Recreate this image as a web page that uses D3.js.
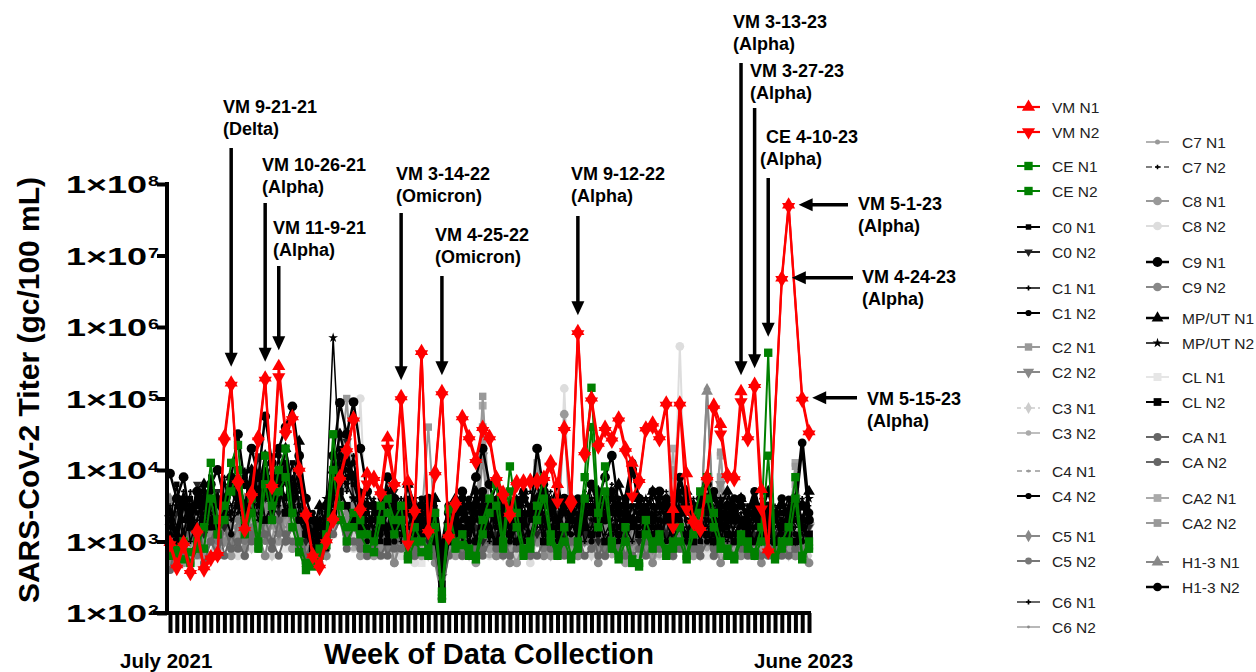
<!doctype html>
<html>
<meta charset="utf-8">
<style>
body { margin: 0; background: #fff; }
text { font-family: "Liberation Sans", Arial, sans-serif; }
</style>
<head>
<script src="https://cdn.jsdelivr.net/npm/d3@7"></script>
</head>
<body>
<script>
var _ = null;
var nWeeks = 95;

// log10 of titer (gc/100 mL), one value per sampled week, _ = no sample
var vmN1 = [2.99,2.68,2.99,2.6,3.17,2.65,2.79,2.85,4.47,5.22,
  3.87,3.2,3.69,4.47,5.29,3.8,5.45,4.57,4.75,4.03,
  3.4,2.82,2.68,3.03,3.34,3.91,4.3,4.73,3.48,3.95,
  3.9,3.7,4.45,3.82,5.03,3.84,3.45,5.66,3.17,3.98,
  5.1,3.1,3.56,4.75,4.47,4.15,4.6,4.47,3.9,3.69,
  3.4,3.84,3.85,3.86,3.87,3.9,4.12,3.8,4.6,3.6,
  5.94,4.26,5.01,4.38,4.6,4.45,4.73,4.31,4.1,3.87,
  4.59,4.66,4.47,4.94,3.45,4.94,3.95,3.3,3.2,3.91,
  4.91,4.64,3.94,3.91,5.1,4.47,5.2,3.73,2.89,_,
  6.69,7.71,_,5.01,4.54];
var vmN2 = [2.95,2.62,2.93,2.55,3.1,2.6,2.75,2.8,4.4,5.18,
  3.8,3.15,3.62,4.4,5.25,3.75,5.3,4.5,4.7,3.98,
  3.35,2.78,2.62,2.98,3.28,3.85,4.25,4.68,3.42,3.8,
  3.85,3.65,4.3,3.78,4.98,2.96,3.4,5.62,3.12,3.92,
  5.05,3.05,3.5,4.7,4.42,4.1,4.55,4.42,3.85,3.62,
  3.35,3.78,3.8,3.82,3.82,3.85,4.05,3.55,4.55,3.5,
  5.9,4.2,4.96,4.32,4.55,4.4,4.68,4.25,3.63,3.82,
  4.55,4.6,4.42,4.9,3.2,4.9,3.45,3.25,3.15,3.85,
  4.85,4.5,3.9,3.86,4.95,4.42,5.15,3.45,2.85,_,
  6.66,7.68,_,4.97,4.5];
var ceN1 = [2.9,2.8,3.0,2.7,2.9,3.2,4.1,3.3,3.5,4.1,
  4.35,3.3,3.6,3.0,4.2,3.5,4.0,4.3,3.4,3.0,
  2.7,2.65,2.9,3.1,4.5,3.5,3.2,3.4,3.3,3.1,
  3.0,3.5,3.6,3.3,3.5,2.8,3.2,3.0,2.9,3.4,
  2.3,3.45,3.0,3.1,2.9,2.8,3.3,3.6,3.8,3.0,
  4.05,3.4,2.9,3.0,3.5,3.9,3.1,2.9,3.2,2.8,
  3.0,3.9,5.15,3.4,4.05,3.0,2.8,3.2,2.75,2.7,
  3.3,3.0,3.1,2.9,3.0,3.2,2.8,3.3,3.7,3.9,
  3.4,3.0,2.9,2.8,3.1,3.0,2.85,3.2,5.64,2.8,
  3.0,3.2,3.9,2.8,3.0];
var ceN2 = [2.8,2.9,2.75,2.85,3.0,2.9,3.6,3.1,3.3,3.7,
  4.0,3.1,3.4,2.9,3.8,3.3,3.7,3.9,3.2,2.85,
  2.6,2.7,2.8,2.95,4.0,3.3,3.0,3.2,3.1,2.9,
  2.85,3.3,3.4,3.1,3.3,2.75,3.0,2.85,2.8,3.2,
  2.2,3.2,2.9,2.95,2.8,2.75,3.1,3.4,3.5,2.9,
  3.7,3.2,2.8,2.9,3.3,3.6,3.0,2.8,3.0,2.75,
  2.9,3.6,4.6,3.2,3.7,2.9,2.75,3.0,2.7,2.65,
  3.1,2.9,3.0,2.8,2.9,3.0,2.75,3.1,3.4,3.6,
  3.2,2.9,2.8,2.75,3.0,2.9,2.8,3.0,4.2,2.75,
  2.9,3.0,3.6,2.75,2.9];
var c0N1 = [3.3,3.8,3.1,3.6,3.4,3.2,3.9,3.5,3.3,3.7, 3.6,3.3,4.0,3.5,3.8,3.4,3.9,3.6,4.1,3.5,
  3.2,3.0,3.3,2.9,3.8,4.3,4.0,3.8,3.5,3.2, 3.4,3.0,3.6,3.2,3.1,3.5,3.0,3.3,3.6,3.1,
  2.3,3.2,3.0,3.4,3.1,3.3,3.6,3.2,3.0,3.5, 3.1,3.4,3.0,3.3,3.6,3.1,3.4,3.0,3.2,3.5,
  3.0,3.3,3.5,3.1,3.4,3.6,3.0,3.5,3.2,3.4, 3.1,3.5,3.2,3.4,3.0,3.3,3.1,3.4,3.0,3.3,
  3.2,3.0,3.4,3.1,3.3,3.0,3.2,3.5,3.0,3.3, 3.1,3.0,3.4,3.2,3.0];
var c0N2 = [3.0,3.4,3.6,3.2,3.8,3.1,3.5,3.7,3.2,3.4, 3.9,3.5,3.7,4.2,3.6,3.9,3.4,4.3,3.8,3.6,
  3.0,3.2,2.8,3.4,3.6,4.0,4.4,3.6,3.3,3.5, 3.1,3.4,3.2,3.7,3.3,3.0,3.4,3.2,3.0,3.4,
  2.5,3.0,3.3,3.1,3.5,3.2,3.0,3.4,3.1,3.2, 3.4,3.0,3.2,3.5,3.1,3.3,3.0,3.4,3.1,3.3,
  3.5,3.1,3.3,3.0,3.6,3.2,3.4,3.1,3.5,3.0, 3.3,3.0,3.4,3.1,3.5,3.2,3.0,3.3,3.1,3.4,
  3.0,3.3,3.1,3.4,3.0,3.5,3.1,3.0,3.2,3.1, 3.3,3.1,3.0,3.3,3.2];
var c1N1 = [3.5,3.2,3.7,3.0,3.3,3.8,3.4,3.1,3.9,3.3, 3.4,4.0,3.6,3.3,3.7,4.2,3.5,3.9,3.4,3.8,
  3.3,2.9,3.1,3.4,3.5,4.1,3.7,4.2,3.1,3.4, 3.2,3.5,3.0,3.4,3.6,3.2,3.5,3.0,3.3,3.5,
  2.8,3.3,3.5,3.0,3.2,3.6,3.3,3.0,3.4,3.1, 3.3,3.5,3.1,3.0,3.4,3.2,3.6,3.3,3.0,3.2,
  3.4,3.0,3.2,3.5,3.1,3.3,3.6,3.2,3.0,3.4, 3.2,3.4,3.0,3.3,3.1,3.6,3.2,3.0,3.4,3.1,
  3.3,3.1,3.0,3.2,3.4,3.1,3.3,3.0,3.1,3.4, 3.0,3.2,3.3,3.1,3.4];
var c1N2 = [3.1,3.6,3.3,3.5,3.0,3.7,3.2,3.6,3.4,3.1, 3.7,3.4,3.8,3.6,4.0,3.5,4.2,3.4,3.7,4.0,
  3.1,3.4,3.0,3.2,3.9,3.6,4.3,3.9,3.6,3.0, 3.5,3.1,3.4,3.0,3.3,3.6,3.2,3.4,3.1,3.6,
  2.6,3.1,3.4,3.2,3.0,3.4,3.1,3.6,3.2,3.3, 3.0,3.2,3.4,3.1,3.3,3.5,3.0,3.2,3.4,3.1,
  3.1,3.4,3.0,3.3,3.5,3.1,3.2,3.4,3.3,3.2, 3.4,3.1,3.3,3.0,3.2,3.4,3.0,3.5,3.2,3.0,
  3.1,3.4,3.2,3.0,3.3,3.2,3.0,3.3,3.4,3.0, 3.2,3.4,3.1,3.0,3.3];
var c2N1 = [2.9,3.3,3.0,3.5,2.8,3.2,3.4,3.0,3.6,3.3, 3.1,3.5,3.2,3.7,3.4,3.0,3.6,3.3,3.8,3.1,
  2.9,3.2,2.8,3.1,3.6,3.9,5.0,3.7,3.3,3.1, 3.0,3.3,3.5,3.1,3.2,3.4,3.0,3.3,4.6,3.2,
  2.7,3.0,3.2,2.9,3.3,3.1,5.03,3.4,3.0,3.2, 2.9,3.1,3.3,3.0,4.1,3.2,3.0,3.4,3.1,2.9,
  3.2,3.0,3.3,3.1,2.9,3.4,3.0,3.2,3.1,3.3, 3.0,3.2,2.9,3.1,3.3,3.0,3.2,3.4,3.1,3.0,
  3.2,4.25,3.0,3.3,3.1,3.0,3.2,2.9,3.1,3.0, 3.3,3.2,4.05,3.1,2.9];
var c2N2 = [3.2,2.9,3.4,3.1,3.3,2.9,3.5,3.2,3.0,3.4, 3.3,3.0,3.6,3.2,3.5,3.8,3.1,3.4,3.6,3.0,
  3.1,2.8,3.0,3.3,3.4,3.7,4.4,3.4,3.0,3.2, 3.3,3.0,3.2,3.4,3.0,3.2,3.4,3.1,3.6,3.0,
  2.5,3.2,3.0,3.3,3.1,2.9,4.2,3.1,3.3,3.0, 3.2,3.0,2.9,3.3,3.5,3.0,3.2,3.1,3.3,3.0,
  3.0,3.3,3.1,2.9,3.2,3.0,3.3,3.1,3.0,3.2, 3.2,2.9,3.1,3.3,3.0,3.2,3.0,3.1,3.3,3.5,
  3.0,3.8,3.2,3.0,3.1,3.3,3.0,3.2,3.0,3.1, 3.0,3.1,3.6,3.0,3.2];
var c3N1 = [2.8,3.1,2.9,3.0,3.3,2.8,3.2,2.9,3.1,3.4, 3.0,3.2,2.9,3.5,3.1,2.8,3.3,3.0,3.2,2.9,
  2.7,2.9,3.0,2.8,3.2,3.5,3.3,3.1,2.9,3.0, 2.9,3.1,3.0,2.8,3.2,2.9,3.1,3.0,2.8,3.1,
  2.6,2.9,3.1,3.0,2.8,3.2,2.9,3.0,3.1,2.8, 3.0,2.8,3.1,2.9,3.2,3.0,2.8,3.1,2.9,3.0,
  2.9,3.1,2.8,3.0,3.2,2.9,3.0,2.8,3.1,2.9, 3.0,2.8,3.1,2.9,3.0,3.2,2.9,3.0,2.8,3.1,
  2.9,3.0,3.2,2.8,3.0,2.9,3.1,2.8,3.0,2.9, 3.0,2.8,3.1,2.9,2.8];
var c3N2 = [3.0,2.8,3.2,2.9,3.1,3.0,2.8,3.3,3.0,2.9, 3.2,3.1,3.4,2.9,3.2,3.5,3.0,3.3,2.9,3.1,
  2.8,3.0,2.7,3.0,3.1,3.4,3.2,2.9,3.1,2.8, 3.0,2.8,3.1,2.9,3.0,3.2,2.8,2.9,3.1,3.0,
  2.4,3.0,2.8,3.1,2.9,3.0,3.2,2.8,3.0,2.9, 2.8,3.0,3.1,2.8,3.0,2.9,3.1,3.0,2.8,3.1,
  3.0,2.8,2.9,3.1,3.0,2.8,3.2,2.9,3.0,2.8, 2.9,3.1,2.8,3.0,2.9,3.1,2.8,3.0,3.1,2.9,
  3.0,2.8,3.0,3.1,2.9,3.0,2.8,3.1,2.9,3.0, 2.8,3.0,2.9,3.1,3.0];
var c4N1 = [3.1,3.4,2.9,3.3,3.0,3.5,3.2,3.6,3.0,3.3, 3.5,3.1,3.3,3.8,3.2,3.6,3.4,3.1,3.5,3.3,
  3.0,2.8,3.2,3.0,3.3,3.6,3.8,3.4,3.2,3.0, 3.2,3.0,3.3,3.1,2.9,3.2,3.3,3.0,3.4,3.1,
  2.6,3.1,2.9,3.2,3.0,3.3,3.1,2.9,3.2,3.0, 3.1,2.9,3.2,3.0,3.3,3.1,2.9,3.2,3.4,3.0,
  3.2,3.0,3.1,3.3,2.9,3.1,3.0,3.3,3.1,3.0, 3.1,3.3,3.0,3.2,2.9,3.1,3.3,3.0,3.2,3.1,
  3.0,3.2,3.1,2.9,3.2,3.0,3.3,3.1,2.9,3.2, 3.1,3.0,3.2,2.9,3.1];
var c4N2 = [3.4,3.0,3.5,3.3,3.6,3.2,3.7,3.3,3.5,3.8, 3.6,3.9,3.4,3.7,4.0,3.5,3.8,4.1,3.6,3.9,
  3.4,3.1,3.3,3.0,3.7,4.2,3.9,4.1,3.7,3.3, 3.3,3.6,3.1,3.5,3.2,3.4,3.1,3.6,3.3,3.2,
  2.7,3.4,3.1,3.3,3.6,3.0,3.5,3.2,3.6,3.3, 3.2,3.6,3.3,3.5,3.8,3.3,3.1,3.6,3.4,3.3,
  3.3,3.6,3.4,3.2,3.7,3.4,3.6,3.2,3.5,3.3, 3.5,3.2,3.6,3.3,3.4,3.7,3.3,3.2,3.5,3.4,
  3.6,3.3,3.2,3.5,3.3,3.4,3.6,3.2,3.4,3.3, 3.4,3.6,3.3,3.5,3.4];
var c5N1 = [3.6,3.2,3.4,3.0,3.5,3.3,3.1,3.4,3.7,3.2, 3.4,3.6,3.1,3.5,3.3,3.7,3.2,3.5,3.4,3.2,
  2.9,3.2,3.0,3.3,3.5,3.8,3.4,3.6,3.1,3.3, 3.1,3.3,3.0,3.4,3.2,3.1,3.3,3.5,3.0,3.2,
  2.7,3.1,3.3,3.0,3.2,3.4,3.1,3.3,2.9,3.2, 3.0,3.3,3.1,3.2,3.0,3.3,3.1,2.9,3.3,3.1,
  3.3,3.0,3.2,3.4,3.1,3.0,3.3,3.2,3.0,3.3, 3.2,3.0,3.3,3.1,3.4,3.0,3.2,3.3,3.1,5.13,
  3.2,3.0,3.4,3.1,3.3,3.0,3.2,3.1,3.3,3.0, 3.2,3.1,3.0,3.3,3.1];
var c5N2 = [2.9,3.2,3.0,3.3,2.8,3.1,3.3,3.0,3.2,2.9, 3.3,3.0,3.2,3.4,3.0,3.3,3.1,3.5,3.2,3.0,
  2.8,3.0,2.9,3.1,3.3,3.5,3.2,3.4,3.0,2.9, 3.0,3.2,2.9,3.1,3.0,2.8,3.2,3.0,3.3,2.9,
  2.3,3.0,3.2,2.9,3.1,3.0,3.3,3.0,3.1,2.9, 3.1,2.9,3.0,3.2,3.1,2.9,3.0,3.2,3.5,3.0,
  2.9,3.1,3.0,3.2,2.9,3.1,3.0,2.8,3.2,3.0, 3.1,2.9,3.0,3.2,3.0,3.1,2.9,3.2,3.0,3.6,
  3.0,3.2,2.9,3.0,3.1,2.9,3.2,3.0,2.9,3.1, 3.0,3.2,3.1,2.9,3.0];
var c6N1 = [3.2,3.5,3.3,3.7,3.1,3.4,3.6,3.2,3.8,3.5, 3.7,3.3,3.9,3.5,3.6,4.0,3.7,3.5,3.9,3.4,
  3.2,3.4,3.1,3.3,3.6,4.0,3.8,4.2,3.4,3.6, 3.4,3.2,3.5,3.3,3.0,3.6,3.4,3.2,3.5,3.3,
  2.9,3.2,3.4,3.6,3.3,3.5,3.2,3.4,3.3,3.6, 3.4,3.2,3.5,3.3,3.2,3.6,3.3,3.5,3.2,3.4,
  3.6,3.3,3.5,3.2,3.4,3.5,3.2,3.6,3.3,3.5, 3.3,3.6,3.2,3.4,3.5,3.3,3.6,3.4,3.2,3.5,
  3.4,3.2,3.6,3.3,3.5,3.2,3.4,3.3,3.5,3.2, 3.3,3.5,3.2,3.6,3.4];
var c6N2 = [3.0,3.3,3.1,3.4,3.2,3.0,3.3,3.5,3.1,3.2, 3.4,3.2,3.5,3.1,3.3,3.6,3.3,3.2,3.4,3.1,
  3.0,3.2,2.9,3.1,3.4,3.6,3.5,3.3,3.2,3.1, 3.2,2.9,3.3,3.0,3.2,3.3,3.0,3.2,3.1,3.3,
  2.8,3.1,3.0,3.2,3.1,3.3,3.0,3.2,3.1,3.0, 3.2,3.0,3.3,3.1,3.0,3.2,3.1,3.3,3.0,3.2,
  3.1,3.3,3.0,3.2,3.1,3.3,3.0,3.1,3.3,3.0, 3.2,3.1,3.3,3.0,3.2,3.1,3.0,3.3,3.1,3.2,
  3.1,3.0,3.2,3.3,3.0,3.2,3.1,3.3,3.0,3.2, 3.1,3.3,3.0,3.2,3.1];
// C7 starts at week 10
var c7N1 = [3.1,3.4,3.0,3.3,3.5,3.2,3.6,3.1,3.4,3.2,
  3.0,2.8,3.1,2.9,3.4,3.7,3.5,3.2,3.0,3.3, 3.1,3.3,2.9,3.2,3.0,3.4,3.1,2.9,3.3,3.0,
  2.6,3.0,3.3,3.1,2.9,3.2,3.4,3.0,3.1,3.3, 3.0,3.2,2.9,3.1,3.3,3.0,3.2,3.1,3.4,2.9,
  3.1,3.0,3.3,2.9,3.2,3.1,3.0,3.2,2.9,3.1, 3.3,3.0,3.1,3.2,2.9,3.1,3.3,3.0,3.2,3.1,
  3.0,3.2,3.1,2.9,3.3,3.0,3.1,3.2,2.9,3.1, 3.2,3.0,3.1,3.3,3.0];
var c7N2 = [3.5,3.2,3.7,3.4,3.9,3.3,3.6,3.8,3.5,3.7,
  3.3,3.0,3.4,3.2,3.6,3.9,4.1,3.8,3.5,3.4, 3.6,3.3,3.7,3.4,3.2,3.5,3.3,3.6,3.4,3.5,
  2.8,3.5,3.3,3.5,3.4,3.7,3.4,3.6,3.3,3.5, 3.6,3.3,3.4,3.7,3.5,3.4,3.7,3.3,3.6,3.5,
  3.4,3.7,3.3,3.6,3.5,3.8,3.4,3.3,3.6,3.4, 3.6,3.4,3.3,3.7,3.4,3.5,3.3,3.6,3.4,3.3,
  3.5,3.3,3.6,3.4,3.2,3.5,3.3,3.6,3.4,3.5, 3.3,3.4,3.6,3.3,3.5];
var c8N1 = [2.8,3.0,2.7,3.1,2.9,2.8,3.2,2.9,3.0,2.8, 3.0,2.8,3.1,2.9,3.2,2.9,3.0,3.3,2.9,3.1,
  2.7,2.9,2.8,3.0,3.2,3.4,3.1,3.0,2.8,2.9, 2.8,3.0,2.9,2.7,3.1,2.9,3.0,2.8,3.0,2.9,
  2.2,2.9,2.8,3.0,2.9,2.7,3.0,2.9,2.8,3.1, 2.9,2.7,3.0,2.8,3.1,2.9,2.8,3.0,4.78,2.9,
  2.8,3.0,2.9,3.1,2.8,3.0,2.9,2.7,3.0,2.9, 3.0,2.8,2.9,3.1,2.8,2.9,3.0,2.8,2.9,3.0,
  2.8,3.0,2.9,2.8,3.1,2.9,2.8,3.0,2.9,2.8, 3.0,2.9,2.8,3.0,2.9];
var c8N2 = [2.9,2.7,3.0,2.8,3.1,2.9,2.8,3.0,3.2,2.9, 2.8,3.1,2.9,3.0,3.3,2.8,3.0,3.2,2.9,3.0,
  2.8,2.7,2.9,2.8,3.1,3.3,3.0,2.9,5.0,3.0, 2.9,2.8,3.0,2.9,2.8,3.0,2.7,2.9,3.0,2.8,
  2.5,2.8,3.0,2.9,2.8,3.0,2.9,2.8,3.0,2.9, 2.8,3.0,2.9,2.7,3.0,2.9,3.1,2.8,5.14,3.0,
  2.9,2.8,3.0,2.9,2.8,3.1,2.9,3.0,2.8,2.9, 3.0,2.9,2.8,3.0,2.9,5.73,2.9,2.8,3.0,2.9,
  2.8,2.9,3.0,2.8,2.9,3.0,2.8,2.9,3.1,2.8, 2.9,3.0,2.8,2.9,2.7];
var c9N1 = [3.95,3.6,3.9,3.3,3.7,3.5,3.8,4.0,3.6,3.9, 4.5,3.8,4.3,3.9,4.75,4.1,4.3,4.6,4.89,4.2,
  3.6,3.3,3.0,3.5,4.2,4.94,4.5,4.95,4.3,3.7, 3.5,3.3,3.9,3.6,3.4,3.8,3.3,3.5,3.6,3.2,
  2.9,3.4,3.2,3.7,3.5,3.9,4.3,3.8,3.4,3.3, 3.5,3.2,3.6,3.4,4.3,3.7,3.5,3.3,3.6,3.4,
  3.2,3.5,3.8,3.6,3.9,4.2,3.5,3.3,4.0,3.6, 3.4,3.3,3.7,3.5,3.2,3.4,3.6,3.3,3.5,3.8,
  3.4,3.2,3.5,3.3,3.6,3.2,3.4,3.1,3.3,3.0, 3.2,3.4,3.5,3.5,3.3];
var c9N2 = [2.7,3.0,2.8,3.2,2.9,3.4,3.1,2.8,3.3,3.0, 3.2,2.9,3.5,3.1,2.8,3.3,3.6,3.0,3.2,2.9,
  2.7,2.9,3.1,2.8,3.4,3.8,3.3,3.5,3.0,2.8, 3.1,2.9,3.2,2.7,3.0,3.3,2.8,3.1,2.9,2.7,
  2.2,2.9,3.1,2.8,3.0,3.2,2.9,3.3,2.8,3.0, 2.7,3.1,2.9,3.2,3.0,2.8,3.3,2.9,3.6,3.0,
  2.8,3.1,3.0,2.7,3.2,2.9,3.0,3.3,2.8,3.1, 2.9,2.7,3.0,3.2,2.8,3.1,2.9,3.0,2.8,3.2,
  3.0,2.7,2.9,3.1,2.8,3.0,2.9,2.7,3.0,2.8, 2.9,3.1,2.8,3.0,2.7];
var mpN1 = [3.4,3.1,3.6,3.3,3.5,3.8,3.2,3.6,3.4,3.9, 3.8,3.5,4.0,3.7,4.2,3.6,3.9,4.3,3.7,4.4,
  3.3,3.1,3.5,3.2,4.0,4.5,4.1,3.9,3.6,3.5, 3.5,3.2,3.7,3.4,3.3,3.8,3.5,3.2,3.4,3.6,
  2.9,3.3,3.6,3.4,3.2,3.7,3.3,3.5,3.8,3.4, 3.5,3.3,3.7,3.4,3.6,3.3,3.5,3.8,3.4,3.6,
  3.3,3.6,3.4,3.7,3.5,3.4,3.8,3.5,3.3,3.6, 3.4,3.7,3.5,3.3,3.6,3.4,3.7,3.5,3.4,3.6,
  3.3,3.5,3.7,3.4,3.6,3.3,3.5,3.4,3.7,3.3, 3.5,3.4,3.6,3.3,3.7];
var mpN2 = [3.2,3.5,3.0,3.4,3.7,3.3,3.5,3.2,3.6,3.4, 3.6,3.3,3.8,3.5,3.9,3.4,3.7,4.0,3.5,3.8,
  3.2,3.0,3.3,3.6,5.85,4.0,3.8,3.6,3.3,3.4, 3.3,3.5,3.2,3.6,3.4,3.2,3.6,3.3,3.5,3.2,
  2.8,3.4,3.2,3.5,3.3,3.6,3.2,3.4,3.6,3.3, 3.4,3.6,3.2,3.5,3.3,3.6,3.4,3.2,3.5,3.3,
  3.5,3.2,3.6,3.3,3.4,3.6,3.3,3.5,3.2,3.4, 3.6,3.3,3.4,3.5,3.2,3.6,3.4,3.3,3.5,3.2,
  3.4,3.6,3.3,3.5,3.2,3.4,3.3,3.5,3.2,3.4, 3.3,3.5,3.4,3.2,3.6];
var clN1 = [2.8,3.0,2.9,3.2,2.7,3.0,3.1,2.8,3.3,2.9, 3.1,2.9,3.3,3.0,2.8,3.2,3.5,2.9,3.1,3.0,
  2.9,2.7,3.0,2.8,3.1,3.3,3.0,3.2,2.9,2.8, 3.0,2.8,2.9,3.1,2.8,3.0,2.9,2.7,3.0,2.9,
  2.6,2.8,3.0,2.9,3.1,2.8,3.0,2.9,2.8,3.0, 2.9,2.8,3.0,3.1,2.8,2.9,3.0,2.8,3.1,2.9,
  3.0,2.9,2.8,3.0,2.9,3.1,2.8,3.0,2.9,2.8, 2.9,3.0,2.8,2.9,3.1,3.0,2.8,2.9,3.0,2.8,
  3.0,2.9,2.8,3.1,2.9,2.8,3.0,2.9,2.8,3.0, 2.8,3.0,2.9,2.8,3.0];
var clN2 = [3.3,3.0,3.5,3.2,3.0,3.6,3.3,3.1,3.4,3.7, 3.5,3.2,3.6,3.9,3.3,3.5,3.8,3.4,3.6,3.3,
  3.1,2.9,3.2,3.0,3.4,3.7,3.5,3.3,3.2,3.5, 3.1,3.3,3.0,3.2,3.4,3.0,3.2,3.1,3.3,3.0,
  2.4,3.0,3.2,3.1,3.3,3.0,3.4,3.1,3.0,3.2, 3.1,3.0,3.3,3.1,3.4,3.0,3.2,3.1,3.0,3.3,
  3.0,3.2,3.1,3.3,3.0,3.2,3.1,3.0,3.3,3.1, 3.2,3.0,3.1,3.3,3.0,3.2,3.1,3.0,3.2,3.1,
  3.0,3.2,3.1,3.0,3.3,3.1,3.0,3.2,3.1,3.0, 3.2,3.1,3.0,3.2,3.1];
var caN1 = [3.1,2.8,3.0,2.7,3.2,2.9,3.0,3.3,2.8,3.1, 2.9,3.2,3.0,3.4,3.1,2.9,3.3,3.0,3.2,3.4,
  2.8,3.0,2.7,2.9,3.3,3.5,3.1,3.0,2.9,3.1, 2.9,3.1,2.8,3.0,2.9,3.1,2.8,3.0,3.2,2.9,
  2.2,3.0,2.9,3.1,2.8,3.0,2.9,3.1,3.0,2.8, 3.0,3.1,2.9,2.8,3.1,3.0,2.9,3.1,2.8,3.0,
  2.9,3.0,3.2,2.8,3.0,2.9,3.1,2.8,3.0,3.1, 2.8,3.0,2.9,3.1,2.8,3.0,3.1,2.9,2.8,3.0,
  2.9,3.1,2.8,3.0,2.9,2.8,3.0,3.1,2.8,2.9, 3.0,2.8,2.9,3.1,2.9];
var caN2 = [2.6,3.0,2.8,3.1,2.9,2.7,3.0,2.8,3.2,2.9, 3.0,2.8,3.1,2.9,3.3,3.0,2.8,3.1,3.0,2.9,
  2.7,2.9,2.8,3.0,3.1,3.3,2.9,3.2,3.0,2.8, 3.0,2.8,3.0,2.9,3.1,2.8,2.9,3.1,2.9,2.8,
  2.3,2.8,3.0,2.8,3.0,2.9,2.8,3.0,2.9,3.1, 2.8,2.9,3.1,2.9,2.8,3.0,3.1,2.8,2.9,3.0,
  3.1,2.8,2.9,3.0,2.8,3.1,2.9,3.0,2.8,2.9, 3.0,2.9,3.1,2.8,3.0,2.9,2.8,3.0,2.9,3.1,
  2.8,2.9,3.0,2.8,3.1,2.9,3.0,2.8,3.0,2.9, 2.8,3.0,2.9,2.8,2.9];
// CA2 starts at week 30
var ca2N1 = [3.2,3.0,3.4,3.1,3.3,3.0,3.2,3.5,3.1,3.0,
  2.6,3.1,3.3,3.0,3.2,3.4,4.9,3.1,3.0,3.3, 3.1,3.3,3.0,3.2,4.0,3.1,3.3,3.0,3.2,3.1,
  3.0,3.2,3.4,3.1,3.0,3.3,3.1,3.2,3.0,3.3, 3.2,3.0,3.3,3.1,4.3,3.0,3.2,3.1,3.3,3.2,
  3.0,4.2,3.1,3.3,3.0,3.2,3.1,3.0,3.3,3.1, 3.2,3.0,4.1,3.2,3.0];
var ca2N2 = [3.0,3.3,3.1,3.4,3.0,3.2,3.1,3.3,3.0,3.2,
  2.5,3.0,3.2,3.1,3.3,3.0,4.6,3.2,3.1,3.0, 3.2,3.0,3.3,3.1,3.8,3.2,3.0,3.3,3.1,3.2,
  3.1,3.3,3.0,3.2,3.1,3.0,3.3,3.1,3.2,3.0, 3.0,3.2,3.1,3.3,4.0,3.1,3.0,3.2,3.1,3.3,
  3.2,3.9,3.0,3.1,3.3,3.0,3.2,3.1,3.0,3.2, 3.1,3.3,3.8,3.0,3.1];
// H1-3 starts at week 40
var h13N1 = [2.8,3.1,3.3,3.0,3.2,3.4,3.1,3.3,3.0,3.2,
  3.4,3.1,3.0,3.3,3.5,3.2,3.0,3.3,3.1,3.4, 3.2,3.0,3.3,3.5,3.1,3.2,3.4,3.0,3.3,3.1,
  3.3,3.0,3.2,3.4,3.1,3.3,3.0,3.2,3.1,5.1, 3.2,3.4,3.0,3.3,3.1,3.2,3.0,3.4,3.1,3.3,
  3.0,3.2,3.4,3.1,3.3];
var h13N2 = [2.9,3.5,3.3,3.6,3.2,3.5,3.7,3.4,3.3,3.6,
  3.3,3.5,3.7,3.4,3.6,3.8,3.5,3.3,3.6,3.4, 3.6,3.4,3.8,3.5,3.3,3.7,3.4,3.6,4.1,3.5,
  3.4,3.7,3.5,3.6,3.3,3.9,3.5,3.4,3.6,3.5, 3.7,3.4,3.3,3.6,3.5,3.4,3.7,3.3,3.5,3.4,
  3.6,3.3,3.5,4.38,3.4];

var seriesNames = ["VM N1","VM N2","CE N1","CE N2","C0 N1","C0 N2","C1 N1","C1 N2",
  "C2 N1","C2 N2","C3 N1","C3 N2","C4 N1","C4 N2","C5 N1","C5 N2","C6 N1","C6 N2",
  "C7 N1","C7 N2","C8 N1","C8 N2","C9 N1","C9 N2","MP/UT N1","MP/UT N2","CL N1","CL N2",
  "CA N1","CA N2","CA2 N1","CA2 N2","H1-3 N1","H1-3 N2"];
var seriesValues = [vmN1,vmN2,ceN1,ceN2,c0N1,c0N2,c1N1,c1N2,c2N1,c2N2,c3N1,c3N2,
  c4N1,c4N2,c5N1,c5N2,c6N1,c6N2,c7N1,c7N2,c8N1,c8N2,c9N1,c9N2,mpN1,mpN2,clN1,clN2,
  caN1,caN2,ca2N1,ca2N2,h13N1,h13N2];
var seriesStart = [0,0,0,0,0,0,0,0,0,0,0,0,0,0,0,0,0,0,10,10,0,0,0,0,0,0,0,0,0,0,30,30,40,40];

// appearance: color, marker, marker area, line width, dash
var seriesStyle = [
  ["#ff0000","triUp",75,2.2,null],["#ff0000","triDown",75,2.2,null],
  ["#008000","square",70,2,null],["#008000","square",70,2,null],
  ["#000","square",30,2,null],["#222","triDown",32,2,null],
  ["#000","cross",14,1.5,null],["#000","circle",30,2,null],
  ["#999","square",55,2,null],["#888","triDown",55,2,null],
  ["#ccc","diamond",40,1.5,"4,3"],["#aaa","circle",24,1.5,null],
  ["#999","circle",8,1.5,"5,4"],["#000","circle",30,2,null],
  ["#888","diamond",45,2,null],["#777","circle",36,2,null],
  ["#000","cross",14,1.2,null],["#888","circle",6,1.2,null],
  ["#999","circle",20,1.5,null],["#000","cross",12,1.2,"6,3"],
  ["#999","circle",60,2,null],["#ddd","circle",60,2,null],
  ["#000","circle",75,2.5,null],["#888","circle",60,2,null],
  ["#000","triUp",60,2.5,null],["#000","star",30,1.5,null],
  ["#e6e6e6","square",64,2,null],["#000","square",60,2,null],
  ["#666","circle",50,2,null],["#666","circle",50,2,null],
  ["#aaa","square",60,2,null],["#999","square",60,2,null],
  ["#888","triUp",60,2,null],["#000","circle",60,3.5,null]
];

// annotations: label, variant, series index, week index
var annLabel = ["VM 9-21-21","VM 10-26-21","VM 11-9-21","VM 3-14-22","VM 4-25-22","VM 9-12-22",
  "VM 3-13-23","VM 3-27-23","CE 4-10-23","VM 5-1-23","VM 4-24-23","VM 5-15-23"];
var annVariant = ["(Delta)","(Alpha)","(Alpha)","(Omicron)","(Omicron)","(Alpha)",
  "(Alpha)","(Alpha)","(Alpha)","(Alpha)","(Alpha)","(Alpha)"];
var annSeries = [0,0,0,0,0,0,0,0,2,0,0,0];
var annWeek = [9,14,16,34,40,60,84,86,88,91,90,93];
// layout: [kind, text x, first baseline, arrow start]
var annLayout = [["v",223,113,148],["v",262,171,203],["v",273,234,266],["v",396,180,213],
  ["v",435,241,276],["v",571,180,216],["v",733,28,63],["v",750,77,108],["v",766,143,178],
  ["h",858,210,848],["h",862,283,853],["h",867,405,857]];

var legendY1 = [107,166,227,288,347,408,471,536,602];
var legendY2 = [142,201,262,318,377,437,498,562];

var width = 1256, height = 672;
var svg = d3.select("body").append("svg")
  .attr("width", width)
  .attr("height", height);

var x = d3.scaleLinear().domain([0, nWeeks - 1]).range([170, 809]);
var y = d3.scaleLog().domain([1e2, 1e8]).range([613, 184]);

function symbolPath(kind, size) {
  var t = {triUp: d3.symbolTriangle, triDown: d3.symbolTriangle, square: d3.symbolSquare,
    circle: d3.symbolCircle, diamond: d3.symbolDiamond, star: d3.symbolStar, cross: d3.symbolCross}[kind];
  return d3.symbol().type(t).size(size)();
}

function points(k) {
  var st = seriesStart[k];
  return seriesValues[k].map(function(v, j) { return {i: st + j, v: v}; })
    .filter(function(d) { return d.v != null; });
}

var line = d3.line()
  .x(function(d) { return x(d.i); })
  .y(function(d) { return y(Math.pow(10, d.v)); });

// background sites first (lighter greys under darker), then CE, then VM on top
var bg = d3.range(4, seriesNames.length);
bg.sort(function(a, b) { return d3.hsl(seriesStyle[b][0]).l - d3.hsl(seriesStyle[a][0]).l || a - b; });
var order = bg.concat([2, 3, 0, 1]);
var plot = svg.append("g");
order.forEach(function(k) {
  var s = seriesStyle[k];
  var pts = points(k);
  var g = plot.append("g");
  g.append("path")
    .attr("d", line(pts))
    .attr("fill", "none")
    .attr("stroke", s[0])
    .attr("stroke-width", s[3])
    .attr("stroke-dasharray", s[4])
    .attr("stroke-linejoin", "round");
  g.selectAll("path.m").data(pts).enter().append("path")
    .attr("class", "m")
    .attr("d", symbolPath(s[1], s[2]))
    .attr("transform", function(d) {
      return "translate(" + x(d.i) + "," + y(Math.pow(10, d.v)) + ")" + (s[1] == "triDown" ? " rotate(180)" : "");
    })
    .attr("fill", s[0]);
});

// x axis
var xAxis = d3.axisBottom(x).tickValues(d3.range(nWeeks)).tickSize(20).tickFormat("");
var gx = svg.append("g").attr("transform", "translate(0,613)").call(xAxis);
gx.select(".domain").remove();
gx.selectAll(".tick line").attr("stroke", "#000").attr("stroke-width", 4);
svg.append("line")
  .attr("x1", 153).attr("x2", x(nWeeks - 1) + 2)
  .attr("y1", 613).attr("y2", 613)
  .attr("stroke", "#000").attr("stroke-width", 4);

// y axis
var yTicks = [1e2, 1e3, 1e4, 1e5, 1e6, 1e7, 1e8];
var yAxis = d3.axisLeft(y).tickValues(yTicks).tickSize(10).tickFormat("");
var gy = svg.append("g").attr("transform", "translate(167,0)").call(yAxis);
gy.select(".domain").remove();
gy.selectAll(".tick line").attr("stroke", "#000").attr("stroke-width", 4);
svg.append("line")
  .attr("x1", 167).attr("x2", 167)
  .attr("y1", y(1e8) - 2).attr("y2", 615)
  .attr("stroke", "#000").attr("stroke-width", 4);

yTicks.forEach(function(v) {
  svg.append("text")
    .attr("transform", "translate(147," + (y(v) + 9) + ") scale(1.5,1)")
    .attr("text-anchor", "end")
    .attr("font-size", 24).attr("font-weight", "bold")
    .text("1×10");
  svg.append("text")
    .attr("transform", "translate(148," + (y(v) + 2) + ") scale(1.3,1)")
    .attr("font-size", 15).attr("font-weight", "bold")
    .text(Math.round(Math.log10(v)));
});

svg.append("text")
  .attr("transform", "translate(39,390) rotate(-90)")
  .attr("text-anchor", "middle")
  .attr("font-size", 30).attr("font-weight", "bold")
  .text("SARS-CoV-2 Titer (gc/100 mL)");

svg.append("text")
  .attr("x", 489).attr("y", 664)
  .attr("text-anchor", "middle")
  .attr("font-size", 29).attr("font-weight", "bold")
  .text("Week of Data Collection");
svg.append("text")
  .attr("x", 120).attr("y", 668)
  .attr("font-size", 20.5).attr("font-weight", "bold")
  .text("July 2021");
svg.append("text")
  .attr("x", 754).attr("y", 668)
  .attr("font-size", 20.5).attr("font-weight", "bold")
  .text("June 2023");

// annotations
annLabel.forEach(function(lab, a) {
  var L = annLayout[a];
  var k = annSeries[a];
  var v = seriesValues[k][annWeek[a] - seriesStart[k]];
  var px = x(annWeek[a]), py = y(Math.pow(10, v));
  var t = svg.append("text")
    .attr("font-size", 18).attr("font-weight", "bold");
  t.append("tspan").attr("x", L[1]).attr("y", L[2]).text(lab);
  t.append("tspan").attr("x", a == 8 ? L[1] - 6 : L[1]).attr("y", L[2] + 22).text(annVariant[a]);
  if (L[0] == "v") {
    var tip = py - 16;
    svg.append("line")
      .attr("x1", px).attr("x2", px).attr("y1", L[3]).attr("y2", tip - 10)
      .attr("stroke", "#000").attr("stroke-width", 3.5);
    svg.append("path")
      .attr("d", "M" + (px - 6.5) + "," + (tip - 14) + "L" + (px + 6.5) + "," + (tip - 14) + "L" + px + "," + tip + "Z")
      .attr("fill", "#000");
  } else {
    var tx = px + 10;
    svg.append("line")
      .attr("x1", L[3]).attr("x2", tx + 10).attr("y1", py).attr("y2", py)
      .attr("stroke", "#000").attr("stroke-width", 3.5);
    svg.append("path")
      .attr("d", "M" + (tx + 14) + "," + (py - 6.5) + "L" + (tx + 14) + "," + (py + 6.5) + "L" + tx + "," + py + "Z")
      .attr("fill", "#000");
  }
});

// legend
var legend = svg.append("g");
seriesNames.forEach(function(name, k) {
  var col = k < 18 ? 0 : 1;
  var j = col == 0 ? k : k - 18;
  var cy = (col == 0 ? legendY1 : legendY2)[Math.floor(j / 2)] + (j % 2) * 25;
  var lx = col == 0 ? 1017 : 1146;
  var s = seriesStyle[k];
  legend.append("line")
    .attr("x1", lx).attr("x2", lx + 23).attr("y1", cy).attr("y2", cy)
    .attr("stroke", s[0]).attr("stroke-width", Math.min(s[3], 2.5))
    .attr("stroke-dasharray", s[4]);
  legend.append("path")
    .attr("d", symbolPath(s[1], s[2]))
    .attr("transform", "translate(" + (lx + 11.5) + "," + cy + ")" + (s[1] == "triDown" ? " rotate(180)" : ""))
    .attr("fill", s[0]);
  legend.append("text")
    .attr("x", lx + (col == 0 ? 35 : 36)).attr("y", cy + 5.5)
    .attr("font-size", 15.5).attr("fill", "#222")
    .text(name);
});
</script>
</body>
</html>
